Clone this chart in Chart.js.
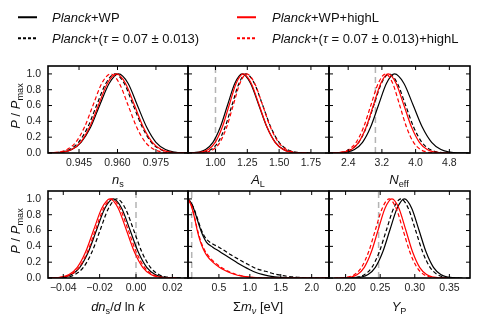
<!DOCTYPE html>
<html><head><meta charset="utf-8">
<script src="https://cdn.jsdelivr.net/npm/chart.js@4.4.0/dist/chart.umd.min.js"></script>
<style>
html,body{margin:0;padding:0;background:#fff;}
#wrap{position:relative;width:479px;height:321px;overflow:hidden;font-family:'Liberation Sans',Arial,sans-serif;color:#111;}
#wrap canvas{position:absolute;left:0;top:0;}
.t{position:absolute;white-space:nowrap;line-height:1;transform:translate(-50%,-50%);font-size:13px;}
.lg{position:absolute;white-space:nowrap;line-height:1;font-size:13px;transform:translateY(-50%);}
.sw{position:absolute;height:1.5px;width:19px;transform:translateY(-50%);}
sub{font-size:0.7em;vertical-align:-0.35em;line-height:0;font-style:normal;}
.yt{position:absolute;white-space:nowrap;line-height:1;font-size:13px;transform:translate(-50%,-50%) rotate(-90deg);}
</style></head>
<body><div id="wrap">
<div class="sw" style="left:18px;top:17px;background:#000"></div>
<div class="lg" style="left:52px;top:17px"><i>Planck</i>+WP</div>
<div class="sw" style="left:18px;top:38px;background:repeating-linear-gradient(90deg,#000 0 3px,transparent 3px 5px)"></div>
<div class="lg" style="left:52px;top:38px"><i>Planck</i>+(<i>τ</i> = 0.07 ± 0.013)</div>
<div class="sw" style="left:237px;top:17px;background:#f00"></div>
<div class="lg" style="left:272px;top:17px"><i>Planck</i>+WP+highL</div>
<div class="sw" style="left:237px;top:38px;background:repeating-linear-gradient(90deg,#f00 0 3px,transparent 3px 5px)"></div>
<div class="lg" style="left:272px;top:38px"><i>Planck</i>+(<i>τ</i> = 0.07 ± 0.013)+highL</div>

<div class="yt" style="left:15px;top:106px"><i>P</i> / <i>P</i><sub>max</sub></div>
<div class="yt" style="left:15px;top:231px"><i>P</i> / <i>P</i><sub>max</sub></div>

<div class="t" style="left:118px;top:179px"><i>n</i><sub>s</sub></div>
<div class="t" style="left:258px;top:179px"><i>A</i><sub>L</sub></div>
<div class="t" style="left:399px;top:179px"><i>N</i><sub>eff</sub></div>
<div class="t" style="left:118px;top:306px"><i>dn</i><sub>s</sub>/<i>d</i> ln <i>k</i></div>
<div class="t" style="left:258px;top:306px">Σ<i>m</i><sub><i>ν</i></sub> [eV]</div>
<div class="t" style="left:399px;top:306px"><i>Y</i><sub>P</sub></div>
</div>
<script>
// ---------------- DATA ----------------
const yTicks = [0, 0.2, 0.4, 0.6, 0.8, 1.0];
const yTickLabels = ['0.0', '0.2', '0.4', '0.6', '0.8', '1.0'];

// n_s
const nsRange = [0.9329, 0.9875];
const nsTicks = [0.945, 0.960, 0.975];
const nsTickLabels = ['0.945', '0.960', '0.975'];
const nsX_WP   = [0.9312,0.9349,0.9385,0.9422,0.9458,0.9495,0.9531,0.9568,0.9604,0.9641,0.9677,0.9714,0.9750,0.9787,0.9823,0.9860,0.9896];
const nsY_WP   = [0,0.002,0.011,0.044,0.135,0.325,0.607,0.882,1,0.882,0.607,0.325,0.135,0.044,0.011,0.002,0];
const nsX_Tau  = [0.9306,0.9342,0.9377,0.9413,0.9448,0.9484,0.9519,0.9555,0.9590,0.9626,0.9661,0.9697,0.9732,0.9768,0.9803,0.9839,0.9874];
const nsY_Tau  = [0,0.002,0.011,0.044,0.135,0.325,0.607,0.882,1,0.882,0.607,0.325,0.135,0.044,0.011,0.002,0];
const nsX_WPh  = [0.9316,0.9351,0.9386,0.9421,0.9456,0.9491,0.9526,0.9561,0.9596,0.9631,0.9666,0.9701,0.9736,0.9771,0.9806,0.9841,0.9876];
const nsY_WPh  = [0,0.002,0.011,0.044,0.135,0.325,0.607,0.882,1,0.882,0.607,0.325,0.135,0.044,0.011,0.002,0];
const nsX_Tauh = [0.9301,0.9335,0.9369,0.9403,0.9437,0.9471,0.9505,0.9539,0.9573,0.9607,0.9641,0.9675,0.9709,0.9743,0.9777,0.9811,0.9845];
const nsY_Tauh = [0,0.002,0.011,0.044,0.135,0.325,0.607,0.882,1,0.882,0.607,0.325,0.135,0.044,0.011,0.002,0];

// A_L
const alRange = [0.784, 1.892];
const alTicks = [1.00, 1.25, 1.50, 1.75];
const alTickLabels = ['1.00', '1.25', '1.50', '1.75'];
const alRef = 1.0;
const alX_WP   = [0.75,0.8075,0.865,0.9225,0.98,1.0375,1.095,1.1525,1.21,1.275,1.34,1.405,1.47,1.535,1.6,1.665,1.73];
const alY_WP   = [0,0.002,0.011,0.044,0.135,0.325,0.607,0.882,1,0.882,0.607,0.325,0.135,0.044,0.011,0.002,0];
const alX_Tau  = [0.8,0.855,0.91,0.965,1.02,1.075,1.13,1.185,1.24,1.305,1.37,1.435,1.5,1.565,1.63,1.695,1.76];
const alY_Tau  = [0,0.002,0.011,0.044,0.135,0.325,0.607,0.882,1,0.882,0.607,0.325,0.135,0.044,0.011,0.002,0];
const alX_WPh  = [0.778,0.833,0.888,0.943,0.998,1.053,1.108,1.163,1.218,1.2805,1.343,1.4055,1.468,1.5305,1.593,1.6555,1.718];
const alY_WPh  = [0,0.002,0.011,0.044,0.135,0.325,0.607,0.882,1,0.882,0.607,0.325,0.135,0.044,0.011,0.002,0];
const alX_Tauh = [0.825,0.8775,0.93,0.9825,1.035,1.0875,1.14,1.1925,1.245,1.3075,1.37,1.4325,1.495,1.5575,1.62,1.6825,1.745];
const alY_Tauh = [0,0.002,0.011,0.044,0.135,0.325,0.607,0.882,1,0.882,0.607,0.325,0.135,0.044,0.011,0.002,0];

// N_eff
const neRange = [1.945, 5.29];
const neTicks = [2.4, 3.2, 4.0, 4.8];
const neTickLabels = ['2.4', '3.2', '4.0', '4.8'];
const neRef = 3.046;
const neX_WP   = [1.98,2.17,2.36,2.55,2.74,2.93,3.12,3.31,3.5,3.72,3.94,4.16,4.38,4.6,4.82,5.04,5.26];
const neY_WP   = [0,0.002,0.011,0.044,0.135,0.325,0.607,0.882,1,0.882,0.607,0.325,0.135,0.044,0.011,0.002,0];
const neX_Tau  = [1.93,2.11,2.29,2.47,2.65,2.83,3.01,3.19,3.37,3.565,3.76,3.955,4.15,4.345,4.54,4.735,4.93];
const neY_Tau  = [0,0.002,0.011,0.044,0.135,0.325,0.607,0.882,1,0.882,0.607,0.325,0.135,0.044,0.011,0.002,0];
const neX_WPh  = [1.95,2.125,2.3,2.475,2.65,2.825,3.0,3.175,3.35,3.535,3.72,3.905,4.09,4.275,4.46,4.645,4.83];
const neY_WPh  = [0,0.002,0.011,0.044,0.135,0.325,0.607,0.882,1,0.882,0.607,0.325,0.135,0.044,0.011,0.002,0];
const neX_Tauh = [1.89,2.065,2.24,2.415,2.59,2.765,2.94,3.115,3.29,3.455,3.62,3.785,3.95,4.115,4.28,4.445,4.61];
const neY_Tauh = [0,0.002,0.011,0.044,0.135,0.325,0.607,0.882,1,0.882,0.607,0.325,0.135,0.044,0.011,0.002,0];

// dn_s / d ln k
const rnRange = [-0.0484, 0.0286];
const rnTicks = [-0.04, -0.02, 0.00, 0.02];
const rnTickLabels = ['\u22120.04', '\u22120.02', '0.00', '0.02'];
const rnRef = 0.0;
const rnX_WP   = [-0.0493,-0.0447,-0.0401,-0.0355,-0.0309,-0.0263,-0.0217,-0.0171,-0.0125,-0.0079,-0.0033,0.0013,0.0059,0.0105,0.0151,0.0197,0.0243];
const rnY_WP   = [0,0.002,0.011,0.044,0.135,0.325,0.607,0.882,1,0.882,0.607,0.325,0.135,0.044,0.011,0.002,0];
const rnX_Tau  = [-0.0473,-0.0427,-0.0381,-0.0335,-0.0289,-0.0243,-0.0197,-0.0151,-0.0105,-0.0059,-0.0013,0.0033,0.0079,0.0125,0.0171,0.0217,0.0263];
const rnY_Tau  = [0,0.002,0.011,0.044,0.135,0.325,0.607,0.882,1,0.882,0.607,0.325,0.135,0.044,0.011,0.002,0];
const rnX_WPh  = [-0.0503,-0.0458,-0.0413,-0.0368,-0.0323,-0.0278,-0.0233,-0.0188,-0.0143,-0.0098,-0.0053,-0.0008,0.0037,0.0082,0.0127,0.0172,0.0217];
const rnY_WPh  = [0,0.002,0.011,0.044,0.135,0.325,0.607,0.882,1,0.882,0.607,0.325,0.135,0.044,0.011,0.002,0];
const rnX_Tauh = [-0.0493,-0.0448,-0.0403,-0.0358,-0.0313,-0.0268,-0.0223,-0.0178,-0.0133,-0.0088,-0.0043,0.0002,0.0047,0.0092,0.0137,0.0182,0.0227];
const rnY_Tauh = [0,0.002,0.011,0.044,0.135,0.325,0.607,0.882,1,0.882,0.607,0.325,0.135,0.044,0.011,0.002,0];

// Sum m_nu
const mnRange = [0, 2.28];
const mnTicks = [0.5, 1.0, 1.5, 2.0];
const mnTickLabels = ['0.5', '1.0', '1.5', '2.0'];
const mnRef = 0.06;
const mnX      = [0,0.05,0.1,0.15,0.2,0.25,0.3,0.4,0.5,0.6,0.7,0.8,0.9,1.0,1.1,1.2,1.3,1.4,1.5,1.6,1.7,1.8,2.0,2.28];
const mnY_WP   = [1.0,0.95,0.86,0.74,0.62,0.52,0.45,0.39,0.34,0.29,0.24,0.19,0.145,0.105,0.07,0.045,0.027,0.015,0.008,0.004,0.002,0.001,0,0];
const mnY_Tau  = [1.0,0.95,0.87,0.76,0.64,0.55,0.49,0.43,0.39,0.34,0.29,0.245,0.2,0.16,0.12,0.095,0.075,0.05,0.035,0.022,0.013,0.007,0.002,0];
const mnY_WPh  = [1.0,0.92,0.78,0.60,0.46,0.36,0.29,0.20,0.14,0.095,0.06,0.035,0.02,0.01,0.004,0.001,0,0,0,0,0,0,0,0];
const mnY_Tauh = [1.0,0.93,0.79,0.62,0.48,0.38,0.31,0.22,0.155,0.105,0.068,0.04,0.022,0.011,0.005,0.002,0,0,0,0,0,0,0,0];

// Y_P
const ypRange = [0.176, 0.3798];
const ypTicks = [0.20, 0.25, 0.30, 0.35];
const ypTickLabels = ['0.20', '0.25', '0.30', '0.35'];
const ypRef = 0.2477;
const ypX_WP   = [0.201,0.2115,0.222,0.2325,0.243,0.2535,0.264,0.2745,0.285,0.2955,0.306,0.3165,0.327,0.3375,0.348,0.3585,0.369];
const ypY_WP   = [0,0.002,0.011,0.044,0.135,0.325,0.607,0.882,1,0.882,0.607,0.325,0.135,0.044,0.011,0.002,0];
const ypX_Tau  = [0.196,0.2065,0.217,0.2275,0.238,0.2485,0.259,0.2695,0.28,0.2905,0.301,0.3115,0.322,0.3325,0.343,0.3535,0.364];
const ypY_Tau  = [0,0.002,0.011,0.044,0.135,0.325,0.607,0.882,1,0.882,0.607,0.325,0.135,0.044,0.011,0.002,0];
const ypX_WPh  = [0.187,0.197,0.207,0.217,0.227,0.237,0.247,0.257,0.267,0.277,0.287,0.297,0.307,0.317,0.327,0.337,0.347];
const ypY_WPh  = [0,0.002,0.011,0.044,0.135,0.325,0.607,0.882,1,0.882,0.607,0.325,0.135,0.044,0.011,0.002,0];
const ypX_Tauh = [0.183,0.193,0.203,0.213,0.223,0.233,0.243,0.253,0.263,0.273,0.283,0.293,0.303,0.313,0.323,0.333,0.343];
const ypY_Tauh = [0,0.002,0.011,0.044,0.135,0.325,0.607,0.882,1,0.882,0.607,0.325,0.135,0.044,0.011,0.002,0];

// ---------------- LAYOUT / STYLE ----------------
const W = 479, H = 321;
const cols = [[48, 188], [188, 329], [329, 470]];
const rows = [[66, 153], [191, 278]];
const styles = [
  {color: '#000', dash: []},
  {color: '#000', dash: [4, 2.5]},
  {color: '#ff0000', dash: []},
  {color: '#ff0000', dash: [4, 2.5]}
];

const panels = [
  {r: 0, c: 0, range: nsRange, ticks: nsTicks, labels: nsTickLabels, ref: null,
   curves: [[nsX_WP, nsY_WP], [nsX_Tau, nsY_Tau], [nsX_WPh, nsY_WPh], [nsX_Tauh, nsY_Tauh]]},
  {r: 0, c: 1, range: alRange, ticks: alTicks, labels: alTickLabels, ref: alRef,
   curves: [[alX_WP, alY_WP], [alX_Tau, alY_Tau], [alX_WPh, alY_WPh], [alX_Tauh, alY_Tauh]]},
  {r: 0, c: 2, range: neRange, ticks: neTicks, labels: neTickLabels, ref: neRef,
   curves: [[neX_WP, neY_WP], [neX_Tau, neY_Tau], [neX_WPh, neY_WPh], [neX_Tauh, neY_Tauh]]},
  {r: 1, c: 0, range: rnRange, ticks: rnTicks, labels: rnTickLabels, ref: rnRef,
   curves: [[rnX_WP, rnY_WP], [rnX_Tau, rnY_Tau], [rnX_WPh, rnY_WPh], [rnX_Tauh, rnY_Tauh]]},
  {r: 1, c: 1, range: mnRange, ticks: mnTicks, labels: mnTickLabels, ref: mnRef,
   curves: [[mnX, mnY_WP], [mnX, mnY_Tau], [mnX, mnY_WPh], [mnX, mnY_Tauh]]},
  {r: 1, c: 2, range: ypRange, ticks: ypTicks, labels: ypTickLabels, ref: ypRef,
   curves: [[ypX_WP, ypY_WP], [ypX_Tau, ypY_Tau], [ypX_WPh, ypY_WPh], [ypX_Tauh, ypY_Tauh]]}
];

const framePlugin = {
  id: 'frame',
  beforeDatasetsDraw(chart, args, opts) {
    if (opts.ref === null || opts.ref === undefined) return;
    const {ctx, chartArea: a, scales: {x}} = chart;
    const px = x.getPixelForValue(opts.ref);
    ctx.save();
    ctx.strokeStyle = '#b4b4b4';
    ctx.lineWidth = 1.5;
    ctx.setLineDash([6, 4]);
    ctx.beginPath(); ctx.moveTo(px, a.bottom); ctx.lineTo(px, a.top); ctx.stroke();
    ctx.restore();
  },
  afterDatasetsDraw(chart) {
    const {ctx, chartArea: a, scales: {x, y}} = chart;
    ctx.save();
    ctx.strokeStyle = '#000';
    ctx.lineWidth = 1;
    const tl = 4;
    ctx.beginPath();
    x.ticks.forEach(t => {
      const px = x.getPixelForValue(t.value);
      ctx.moveTo(px, a.bottom); ctx.lineTo(px, a.bottom - tl);
      ctx.moveTo(px, a.top); ctx.lineTo(px, a.top + tl);
    });
    y.ticks.forEach(t => {
      const py = y.getPixelForValue(t.value);
      ctx.moveTo(a.left, py); ctx.lineTo(a.left + tl, py);
      ctx.moveTo(a.right, py); ctx.lineTo(a.right - tl, py);
    });
    ctx.stroke();
    ctx.lineWidth = 1.6;
    ctx.strokeRect(a.left, a.top, a.right - a.left, a.bottom - a.top);
    ctx.restore();
  }
};

const wrap = document.getElementById('wrap');
panels.forEach(p => {
  const cv = document.createElement('canvas');
  cv.width = W; cv.height = H;
  cv.style.width = W + 'px'; cv.style.height = H + 'px';
  wrap.insertBefore(cv, wrap.firstChild);
  const [L, R] = cols[p.c];
  const [T, B] = rows[p.r];
  const showY = p.c === 0;
  const yW = showY ? 30 : 0;
  const xH = 20;
  const datasets = p.curves.map((cv2, i) => ({
    data: cv2[0].map((xv, j) => ({x: xv, y: cv2[1][j]})),
    borderColor: styles[i].color,
    borderDash: styles[i].dash,
    borderWidth: 1.2,
    pointRadius: 0,
    fill: false,
    cubicInterpolationMode: 'monotone'
  })).reverse();
  new Chart(cv, {
    type: 'line',
    data: {datasets},
    options: {
      responsive: false,
      animation: false,
      devicePixelRatio: 1,
      layout: {padding: {left: L - yW, right: W - R, top: T, bottom: H - B - xH}},
      plugins: {legend: {display: false}, tooltip: {enabled: false}, frame: {ref: p.ref}},
      scales: {
        x: {
          type: 'linear', min: p.range[0], max: p.range[1],
          grid: {display: false, drawTicks: false},
          border: {display: false},
          afterBuildTicks: s => { s.ticks = p.ticks.map(v => ({value: v})); },
          afterFit: s => { s.height = xH; },
          ticks: {
            padding: 4, maxRotation: 0, autoSkip: false,
            color: '#222', font: {family: 'Liberation Sans', size: 10.5},
            callback: (v, i) => p.labels[i]
          }
        },
        y: {
          type: 'linear', min: 0, max: 1.1,
          grid: {display: false, drawTicks: false},
          border: {display: false},
          afterBuildTicks: s => { s.ticks = yTicks.map(v => ({value: v})); },
          afterFit: s => { s.width = yW; },
          ticks: {
            display: showY, padding: 7, autoSkip: false,
            color: '#222', font: {family: 'Liberation Sans', size: 10.5},
            callback: (v, i) => yTickLabels[i]
          }
        }
      }
    },
    plugins: [framePlugin]
  });
});
</script>
</body></html>
